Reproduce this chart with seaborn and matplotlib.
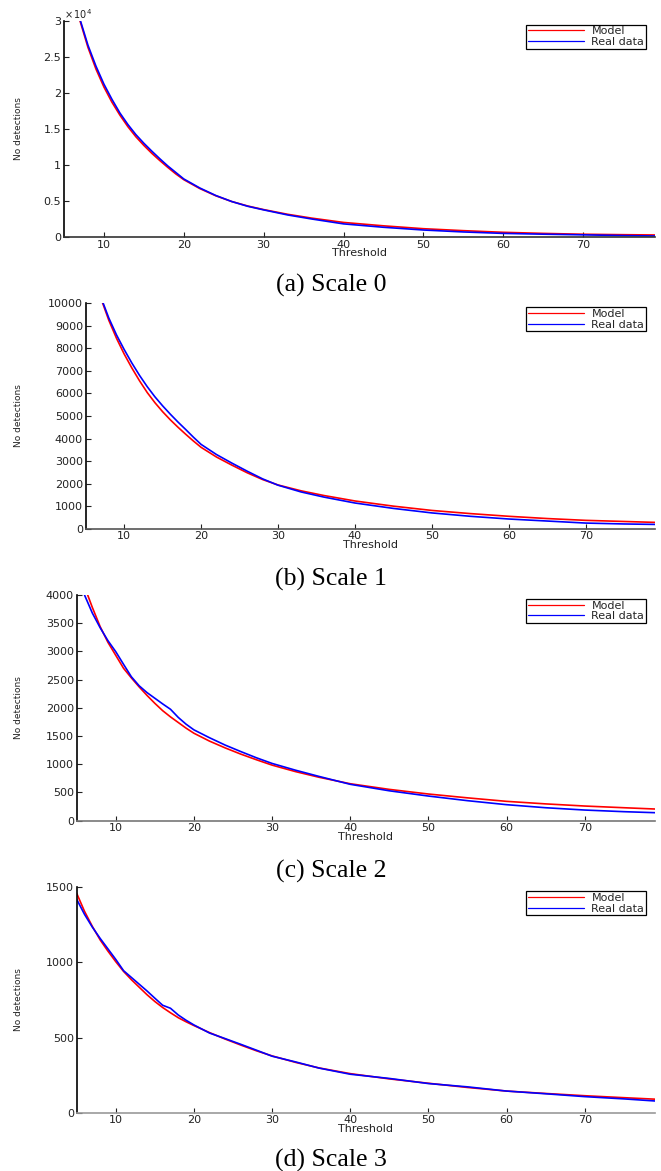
import matplotlib
matplotlib.use("Agg")
import matplotlib.pyplot as plt
from matplotlib import font_manager
from matplotlib.ticker import FuncFormatter
import seaborn as sns

# ---------------- data ----------------
a_t = [6, 7, 8, 9, 10, 11, 12, 13, 14, 15, 16, 17, 18, 19, 20, 22, 24, 26, 28, 30,
       33, 36, 40, 45, 50, 55, 60, 65, 70, 75, 79]
a_model = [34500, 30000, 26300, 23300, 20800, 18700, 16900, 15300, 13900, 12700, 11600,
           10600, 9650, 8750, 7950, 6720, 5720, 4920, 4300, 3800, 3150, 2620, 2020, 1550,
           1150, 880, 650, 500, 380, 320, 280]
a_real = [34500, 30200, 26600, 23700, 21200, 19100, 17200, 15600, 14200, 13000, 11900,
          10850, 9850, 8950, 8050, 6800, 5760, 4920, 4260, 3760, 3060, 2500, 1820, 1350,
          970, 700, 500, 390, 300, 200, 140]

b_t = [7, 8, 9, 10, 11, 12, 13, 14, 15, 16, 17, 18, 19, 20, 22, 24, 26, 28, 30, 33, 36,
       40, 45, 50, 55, 60, 65, 70, 75, 79]
b_model = [10200, 9250, 8450, 7750, 7130, 6560, 6040, 5590, 5190, 4830, 4500, 4190, 3890,
           3610, 3180, 2820, 2480, 2180, 1940, 1680, 1470, 1230, 1000, 810, 670, 550, 450,
           370, 320, 280]
b_real = [10250, 9350, 8600, 7950, 7350, 6800, 6300, 5850, 5450, 5080, 4730, 4400, 4060,
          3740, 3290, 2910, 2550, 2210, 1930, 1630, 1400, 1140, 900, 700, 550, 430, 340,
          250, 210, 190]

c_t = [6, 7, 8, 9, 10, 11, 12, 13, 14, 15, 16, 17, 18, 19, 20, 22, 24, 26, 28, 30, 33,
       36, 40, 45, 50, 55, 60, 65, 70, 75, 79]
c_model = [4150, 3780, 3440, 3160, 2930, 2700, 2530, 2370, 2220, 2080, 1950, 1840, 1740,
           1640, 1550, 1410, 1290, 1180, 1080, 985, 870, 770, 655, 555, 473, 405, 343, 298,
           260, 230, 207]
c_real = [4000, 3680, 3420, 3190, 2995, 2770, 2550, 2390, 2270, 2170, 2070, 1975, 1830,
          1710, 1610, 1470, 1340, 1225, 1115, 1015, 895, 785, 645, 530, 437, 355, 284, 230,
          189, 160, 142]

d_t = [5, 6, 7, 8, 9, 10, 11, 12, 13, 14, 15, 16, 17, 18, 19, 20, 22, 24, 26, 28, 30,
       33, 36, 40, 45, 50, 55, 60, 65, 70, 75, 79]
d_model = [1460, 1340, 1240, 1150, 1075, 1005, 940, 885, 835, 785, 740, 700, 665, 632,
           605, 580, 533, 490, 450, 412, 378, 335, 298, 260, 225, 196, 168, 144, 128, 113,
           100, 90]
d_real = [1420, 1320, 1235, 1160, 1090, 1020, 945, 900, 855, 810, 762, 715, 695, 650,
          615, 584, 530, 493, 455, 416, 376, 338, 297, 256, 228, 194, 172, 144, 126, 107,
          92, 78]

x_ticks = [10, 20, 30, 40, 50, 60, 70]
a_yticks = [0, 5000, 10000, 15000, 20000, 25000, 30000]
b_yticks = [0, 1000, 2000, 3000, 4000, 5000, 6000, 7000, 8000, 9000, 10000]
c_yticks = [0, 500, 1000, 1500, 2000, 2500, 3000, 3500, 4000]
d_yticks = [0, 500, 1000, 1500]
captions = ["(a) Scale 0", "(b) Scale 1", "(c) Scale 2", "(d) Scale 3"]
series_labels = ["Model", "Real data"]
x_label = "Threshold"
y_label = "No detections"

# ---------------- style ----------------
sns.set_theme(style="white")
plt.rcParams["font.family"] = ["DejaVu Sans"]
plt.rcParams["mathtext.fontset"] = "dejavusans"

installed = {f.name for f in font_manager.fontManager.ttflist}
narrow = "Liberation Sans Narrow" if "Liberation Sans Narrow" in installed else None

W, H = 661, 1171
fig = plt.figure(figsize=(W / 100, H / 100), dpi=100)
fig.patch.set_facecolor("white")

# axes boxes in pixels: left, top, right, bottom
boxes = [
    (64, 20.7, 655, 237),
    (85.7, 303.3, 655, 528.7),
    (76.7, 595, 655, 820.7),
    (76.7, 887.3, 655, 1112.7),
]
caption_baseline = [292, 586, 878, 1167]
bottom_colors = ["#333333", "#555555", "#777777", "#999999"]

panels = [
    (a_t, a_model, a_real, a_yticks, 30000),
    (b_t, b_model, b_real, b_yticks, 10000),
    (c_t, c_model, c_real, c_yticks, 4000),
    (d_t, d_model, d_real, d_yticks, 1500),
]

for i, ((t, model, real, yt, ymax), (l, tp, r, bt)) in enumerate(zip(panels, boxes)):
    ax = fig.add_axes([l / W, 1 - bt / H, (r - l) / W, (bt - tp) / H])
    ax.set_facecolor("white")
    sns.lineplot(x=t, y=model, ax=ax, color="#ff0000", linewidth=1.2,
                 label=series_labels[0], estimator=None, sort=False)
    sns.lineplot(x=t, y=real, ax=ax, color="#0000ff", linewidth=1.2,
                 label=series_labels[1], estimator=None, sort=False)
    ax.set_xlim(5, 79)
    ax.set_ylim(0, ymax)
    ax.set_xticks(x_ticks)
    ax.set_yticks(yt)
    if i == 0:
        ax.yaxis.set_major_formatter(FuncFormatter(lambda v, p: f"{v / 1e4:g}"))
        ax.text(0.0, 1.0, r"$\times\,10^{4}$", transform=ax.transAxes, ha="left",
                va="bottom", fontsize=7, color="#222222")
    for s in ["top", "right"]:
        ax.spines[s].set_visible(False)
    ax.spines["left"].set_color("black")
    ax.spines["left"].set_linewidth(1.2)
    ax.spines["bottom"].set_color(bottom_colors[i])
    ax.spines["bottom"].set_linewidth(1.2)
    ax.tick_params(axis="both", direction="in", length=3.5, width=0.8,
                   labelsize=8, colors="#222222", pad=2, left=True, bottom=True)
    ax.set_xlabel(x_label, fontsize=8, labelpad=-1, color="#222222")
    ax.set_ylabel("")
    # y label (condensed look)
    yl_kw = dict(rotation=90, ha="center", va="center", color="#222222")
    if narrow:
        fig.text(18.5 / W, 1 - ((tp + bt) / 2) / H, y_label, family=narrow,
                 fontsize=8, **yl_kw)
    else:
        fig.text(18.5 / W, 1 - ((tp + bt) / 2) / H, y_label, fontsize=6.5, **yl_kw)
    # legend
    aw, ah = (r - l), (bt - tp)
    leg = ax.legend(loc="upper right", bbox_to_anchor=(1 - 9 / aw, 1 - 4 / ah),
                    borderaxespad=0, fontsize=8, handlelength=5.0, handletextpad=0.7,
                    labelspacing=0.05, borderpad=0.15, fancybox=False, frameon=True,
                    framealpha=1)
    leg.get_frame().set_edgecolor("black")
    leg.get_frame().set_linewidth(0.9)
    for ln in leg.get_lines():
        ln.set_linewidth(0.9)
    # caption
    fig.text(331 / W, 1 - caption_baseline[i] / H, captions[i], family="Liberation Serif",
             fontsize=18.5, ha="center", va="baseline", color="black")

fig.savefig("out.png", dpi=100, facecolor="white")
